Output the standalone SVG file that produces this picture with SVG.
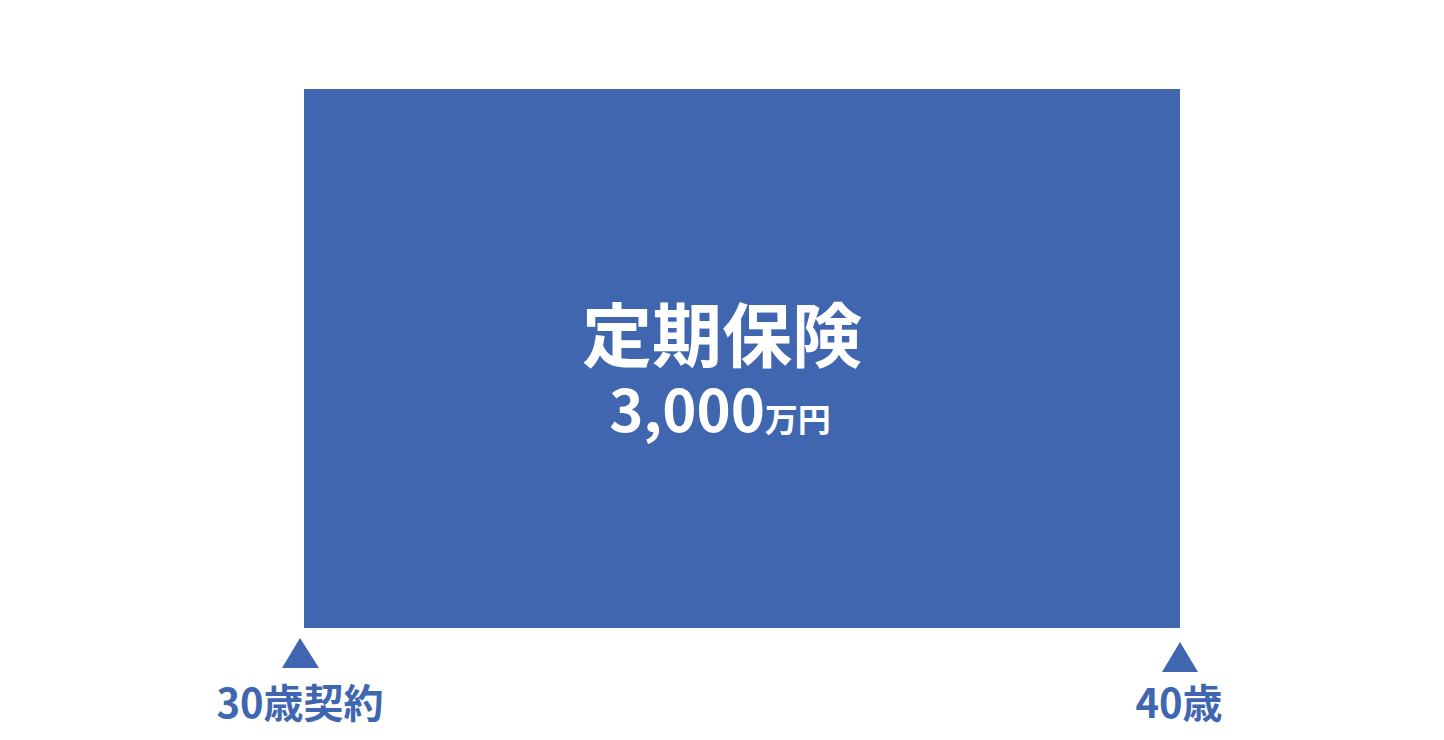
<svg xmlns="http://www.w3.org/2000/svg" width="1444" height="740" viewBox="0 0 1444 740">
<style>
.t{font-family:"Noto Sans CJK JP","Noto Sans",sans-serif;font-weight:700}
.w{fill:#ffffff}
.b{fill:#4066B0}
</style>
<rect width="1444" height="740" fill="#ffffff"/>
<g id="policy">
<rect x="304" y="89" width="876" height="539" class="b"/>
<text class="t w" x="722" y="362" font-size="70" text-anchor="middle">定期保険</text>
<text class="t w" x="720" y="432" text-anchor="middle"><tspan font-size="58">3,000</tspan><tspan font-size="33">万円</tspan></text>
</g>
<g id="start">
<polygon class="b" points="300,638 282,668 319,668"/>
<text class="t b" x="300" y="718" font-size="40" text-anchor="middle">30歳契約</text>
</g>
<g id="end">
<polygon class="b" points="1180,642 1162,672 1198,672"/>
<text class="t b" x="1179" y="718" font-size="40" text-anchor="middle">40歳</text>
</g>
<g id="connectors"></g>
</svg>
